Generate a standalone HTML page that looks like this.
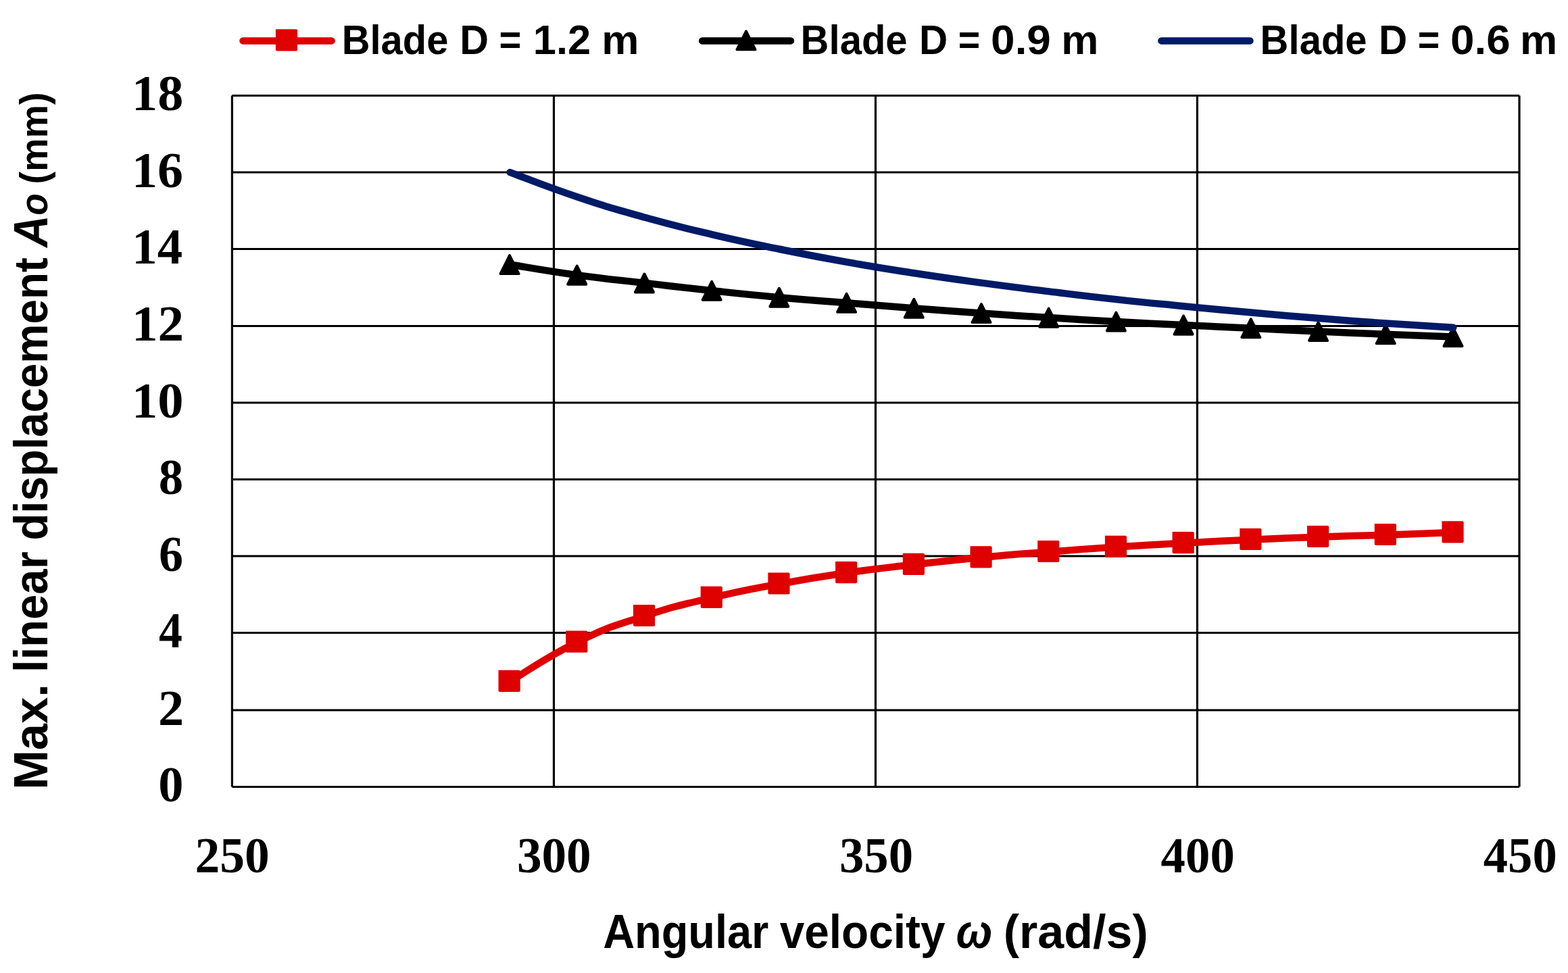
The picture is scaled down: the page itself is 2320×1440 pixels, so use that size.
<!DOCTYPE html>
<html lang="en"><head><meta charset="utf-8"><title>Max. linear displacement vs angular velocity</title>
<style>html,body{margin:0;padding:0;background:#fff;}body{width:2320px;height:1440px;overflow:hidden;}svg{display:block;}.sans{font-family:"Liberation Sans",sans-serif;font-weight:700;fill:#000;}.serif{font-family:"Liberation Serif",serif;font-weight:700;fill:#000;}</style></head><body>
<svg width="2320" height="1440" viewBox="0 0 2320 1440">
<rect width="2320" height="1440" fill="#fff"/>
<g stroke="#000" stroke-width="3.20" fill="none" stroke-linecap="butt">
<line x1="343.40" y1="1164.50" x2="2248.00" y2="1164.50"/>
<line x1="343.40" y1="1051.00" x2="2248.00" y2="1051.00"/>
<line x1="343.40" y1="936.50" x2="2248.00" y2="936.50"/>
<line x1="343.40" y1="823.00" x2="2248.00" y2="823.00"/>
<line x1="343.40" y1="709.50" x2="2248.00" y2="709.50"/>
<line x1="343.40" y1="596.00" x2="2248.00" y2="596.00"/>
<line x1="343.40" y1="482.50" x2="2248.00" y2="482.50"/>
<line x1="343.40" y1="368.50" x2="2248.00" y2="368.50"/>
<line x1="343.40" y1="255.00" x2="2248.00" y2="255.00"/>
<line x1="343.40" y1="141.50" x2="2248.00" y2="141.50"/>
<line x1="343.40" y1="141.50" x2="343.40" y2="1164.50"/>
<line x1="819.45" y1="141.50" x2="819.45" y2="1164.50"/>
<line x1="1295.45" y1="141.50" x2="1295.45" y2="1164.50"/>
<line x1="1771.45" y1="141.50" x2="1771.45" y2="1164.50"/>
<line x1="2248.00" y1="141.50" x2="2248.00" y2="1164.50"/>
</g>
<path fill="none" stroke="#df0000" stroke-width="10.50" stroke-linecap="round" stroke-linejoin="round" d="M754.60 1008.55 C779.52 993.96 804.44 974.42 854.29 950.20 C904.13 925.97 904.13 928.05 953.98 911.65 C1003.83 895.25 1003.83 896.49 1053.67 884.61 C1103.52 872.74 1103.52 873.37 1153.36 864.15 C1203.21 854.93 1203.20 854.90 1253.05 847.75 C1302.89 840.60 1302.89 841.25 1352.74 835.55 C1402.59 829.85 1402.58 829.67 1452.43 824.95 C1502.27 820.22 1502.27 820.50 1552.12 816.65 C1601.96 812.80 1601.96 812.79 1651.81 809.55 C1701.65 806.31 1701.65 806.42 1751.50 803.70 C1801.35 800.97 1801.35 800.91 1851.19 798.65 C1901.04 796.39 1901.04 796.40 1950.88 794.65 C2000.73 792.90 2000.73 793.30 2050.57 791.65 C2100.41 790.00 2125.34 788.95 2150.26 788.05"/>
<g fill="#df0000">
<path d="M737.50 991.80 H767.70 Q769.70 991.80 769.70 993.80 V1022.00 Q769.70 1024.00 767.70 1024.00 H739.50 Q737.50 1024.00 737.50 1022.00 Z"/>
<path d="M837.21 933.45 H867.41 Q869.41 933.45 869.41 935.45 V963.65 Q869.41 965.65 867.41 965.65 H839.21 Q837.21 965.65 837.21 963.65 Z"/>
<path d="M936.92 894.90 H967.12 Q969.12 894.90 969.12 896.90 V925.10 Q969.12 927.10 967.12 927.10 H938.92 Q936.92 927.10 936.92 925.10 Z"/>
<path d="M1036.63 867.86 H1066.83 Q1068.83 867.86 1068.83 869.86 V898.06 Q1068.83 900.06 1066.83 900.06 H1038.63 Q1036.63 900.06 1036.63 898.06 Z"/>
<path d="M1136.34 847.40 H1166.54 Q1168.54 847.40 1168.54 849.40 V877.60 Q1168.54 879.60 1166.54 879.60 H1138.34 Q1136.34 879.60 1136.34 877.60 Z"/>
<path d="M1236.05 831.00 H1266.25 Q1268.25 831.00 1268.25 833.00 V861.20 Q1268.25 863.20 1266.25 863.20 H1238.05 Q1236.05 863.20 1236.05 861.20 Z"/>
<path d="M1335.76 818.80 H1365.96 Q1367.96 818.80 1367.96 820.80 V849.00 Q1367.96 851.00 1365.96 851.00 H1337.76 Q1335.76 851.00 1335.76 849.00 Z"/>
<path d="M1435.47 808.20 H1465.67 Q1467.67 808.20 1467.67 810.20 V838.40 Q1467.67 840.40 1465.67 840.40 H1437.47 Q1435.47 840.40 1435.47 838.40 Z"/>
<path d="M1535.18 799.90 H1565.38 Q1567.38 799.90 1567.38 801.90 V830.10 Q1567.38 832.10 1565.38 832.10 H1537.18 Q1535.18 832.10 1535.18 830.10 Z"/>
<path d="M1634.89 792.80 H1665.09 Q1667.09 792.80 1667.09 794.80 V823.00 Q1667.09 825.00 1665.09 825.00 H1636.89 Q1634.89 825.00 1634.89 823.00 Z"/>
<path d="M1734.60 786.95 H1764.80 Q1766.80 786.95 1766.80 788.95 V817.15 Q1766.80 819.15 1764.80 819.15 H1736.60 Q1734.60 819.15 1734.60 817.15 Z"/>
<path d="M1834.31 781.90 H1864.51 Q1866.51 781.90 1866.51 783.90 V812.10 Q1866.51 814.10 1864.51 814.10 H1836.31 Q1834.31 814.10 1834.31 812.10 Z"/>
<path d="M1934.02 777.90 H1964.22 Q1966.22 777.90 1966.22 779.90 V808.10 Q1966.22 810.10 1964.22 810.10 H1936.02 Q1934.02 810.10 1934.02 808.10 Z"/>
<path d="M2033.73 774.90 H2063.93 Q2065.93 774.90 2065.93 776.90 V805.10 Q2065.93 807.10 2063.93 807.10 H2035.73 Q2033.73 807.10 2033.73 805.10 Z"/>
<path d="M2133.44 771.30 H2163.64 Q2165.64 771.30 2165.64 773.30 V801.50 Q2165.64 803.50 2163.64 803.50 H2135.44 Q2133.44 803.50 2133.44 801.50 Z"/>
</g>
<path fill="none" stroke="#000" stroke-width="10.50" stroke-linecap="round" stroke-linejoin="round" d="M754.60 391.50 C779.52 395.40 804.44 400.25 854.29 407.10 C904.13 413.95 904.13 413.12 953.98 418.90 C1003.83 424.67 1003.83 424.89 1053.67 430.20 C1103.52 435.51 1103.52 435.64 1153.36 440.15 C1203.21 444.66 1203.20 444.23 1253.05 448.25 C1302.89 452.27 1302.89 452.44 1352.74 456.25 C1402.59 460.06 1402.58 460.05 1452.43 463.50 C1502.27 466.95 1502.27 466.93 1552.12 470.05 C1601.96 473.18 1601.96 473.25 1651.81 476.00 C1701.65 478.75 1701.65 478.61 1751.50 481.05 C1801.35 483.49 1801.35 483.39 1851.19 485.75 C1901.04 488.11 1901.04 488.26 1950.88 490.50 C2000.73 492.74 2000.73 492.69 2050.57 494.70 C2100.41 496.71 2125.34 497.59 2150.26 498.55"/>
<g fill="#000" stroke="#000" stroke-width="4.00" stroke-linejoin="round">
<path d="M754.00 378.10 L767.50 405.10 L740.50 405.10 Z"/>
<path d="M853.71 393.70 L867.21 420.70 L840.21 420.70 Z"/>
<path d="M953.42 405.50 L966.92 432.50 L939.92 432.50 Z"/>
<path d="M1053.13 416.80 L1066.63 443.80 L1039.63 443.80 Z"/>
<path d="M1152.84 426.75 L1166.34 453.75 L1139.34 453.75 Z"/>
<path d="M1252.55 434.85 L1266.05 461.85 L1239.05 461.85 Z"/>
<path d="M1352.26 442.85 L1365.76 469.85 L1338.76 469.85 Z"/>
<path d="M1451.97 450.10 L1465.47 477.10 L1438.47 477.10 Z"/>
<path d="M1551.68 456.65 L1565.18 483.65 L1538.18 483.65 Z"/>
<path d="M1651.39 462.60 L1664.89 489.60 L1637.89 489.60 Z"/>
<path d="M1751.10 467.65 L1764.60 494.65 L1737.60 494.65 Z"/>
<path d="M1850.81 472.35 L1864.31 499.35 L1837.31 499.35 Z"/>
<path d="M1950.52 477.10 L1964.02 504.10 L1937.02 504.10 Z"/>
<path d="M2050.23 481.30 L2063.73 508.30 L2036.73 508.30 Z"/>
<path d="M2149.94 485.15 L2163.44 512.15 L2136.44 512.15 Z"/>
</g>
<path fill="none" stroke="#001a66" stroke-width="10.50" stroke-linecap="round" stroke-linejoin="round" d="M754.60 255.07 C779.52 264.17 804.44 274.82 854.29 291.49 C904.13 308.17 904.13 307.87 953.98 321.76 C1003.83 335.65 1003.83 335.31 1053.67 347.05 C1103.52 358.79 1103.52 358.52 1153.36 368.74 C1203.21 378.96 1203.20 379.03 1253.05 387.92 C1302.89 396.81 1302.89 396.61 1352.74 404.29 C1402.59 411.97 1402.58 411.87 1452.43 418.64 C1502.27 425.41 1502.27 425.26 1552.12 431.38 C1601.96 437.50 1601.96 437.67 1651.81 443.13 C1701.65 448.58 1701.65 448.32 1751.50 453.19 C1801.35 458.05 1801.35 458.12 1851.19 462.59 C1901.04 467.06 1901.04 467.07 1950.88 471.06 C2000.73 475.04 2000.73 475.08 2050.57 478.53 C2100.41 481.97 2125.34 483.26 2150.26 484.83"/>
<g fill="none" stroke-width="10.50" stroke-linecap="round">
<line stroke="#df0000" x1="359.5" y1="60.40" x2="490.6" y2="60.40"/>
<line stroke="#000" x1="1039.1" y1="60.40" x2="1169.9" y2="60.40"/>
<line stroke="#001a66" x1="1718.4" y1="60.40" x2="1849.5" y2="60.40"/>
</g>
<g fill="#df0000"><path d="M407.90 43.35 H438.10 Q440.10 43.35 440.10 45.35 V73.55 Q440.10 75.55 438.10 75.55 H409.90 Q407.90 75.55 407.90 73.55 Z"/></g>
<g fill="#000" stroke="#000" stroke-width="4.00" stroke-linejoin="round"><path d="M1103.95 46.35 L1117.45 73.35 L1090.45 73.35 Z"/></g>
<text class="sans" y="79.70" font-size="62.00"><tspan x="505.73" textLength="157.62" lengthAdjust="spacingAndGlyphs">Blade</tspan> <tspan x="680.34" textLength="42.78" lengthAdjust="spacingAndGlyphs">D</tspan> <tspan x="738.44" textLength="32.80" lengthAdjust="spacingAndGlyphs">=</tspan> <tspan x="788.84" textLength="85.28" lengthAdjust="spacingAndGlyphs">1.2</tspan> <tspan x="890.20" textLength="55.08" lengthAdjust="spacingAndGlyphs">m</tspan></text>
<text class="sans" y="79.70" font-size="62.00"><tspan x="1184.62" textLength="158.04" lengthAdjust="spacingAndGlyphs">Blade</tspan> <tspan x="1359.90" textLength="42.19" lengthAdjust="spacingAndGlyphs">D</tspan> <tspan x="1417.76" textLength="32.45" lengthAdjust="spacingAndGlyphs">=</tspan> <tspan x="1466.12" textLength="88.80" lengthAdjust="spacingAndGlyphs">0.9</tspan> <tspan x="1570.20" textLength="55.08" lengthAdjust="spacingAndGlyphs">m</tspan></text>
<text class="sans" y="79.70" font-size="62.00"><tspan x="1864.62" textLength="158.04" lengthAdjust="spacingAndGlyphs">Blade</tspan> <tspan x="2039.90" textLength="42.19" lengthAdjust="spacingAndGlyphs">D</tspan> <tspan x="2097.76" textLength="32.45" lengthAdjust="spacingAndGlyphs">=</tspan> <tspan x="2146.13" textLength="88.53" lengthAdjust="spacingAndGlyphs">0.6</tspan> <tspan x="2249.10" textLength="55.20" lengthAdjust="spacingAndGlyphs">m</tspan></text>
<text class="serif" y="163.40" font-size="74.00"><tspan x="195.12" textLength="76.26" lengthAdjust="spacingAndGlyphs">18</tspan></text>
<text class="serif" y="276.90" font-size="74.00"><tspan x="195.14" textLength="75.97" lengthAdjust="spacingAndGlyphs">16</tspan></text>
<text class="serif" y="390.40" font-size="74.00"><tspan x="195.23" textLength="74.83" lengthAdjust="spacingAndGlyphs">14</tspan></text>
<text class="serif" y="504.40" font-size="74.00"><tspan x="195.05" textLength="77.14" lengthAdjust="spacingAndGlyphs">12</tspan></text>
<text class="serif" y="617.90" font-size="74.00"><tspan x="195.09" textLength="76.55" lengthAdjust="spacingAndGlyphs">10</tspan></text>
<text class="serif" y="731.40" font-size="74.00"><tspan x="234.84" textLength="36.42" lengthAdjust="spacingAndGlyphs">8</tspan></text>
<text class="serif" y="844.90" font-size="74.00"><tspan x="234.97" textLength="36.02" lengthAdjust="spacingAndGlyphs">6</tspan></text>
<text class="serif" y="958.40" font-size="74.00"><tspan x="235.06" textLength="34.92" lengthAdjust="spacingAndGlyphs">4</tspan></text>
<text class="serif" y="1072.90" font-size="74.00"><tspan x="234.01" textLength="38.14" lengthAdjust="spacingAndGlyphs">2</tspan></text>
<text class="serif" y="1186.40" font-size="74.00"><tspan x="234.33" textLength="37.23" lengthAdjust="spacingAndGlyphs">0</tspan></text>
<text class="serif" y="1290.85" font-size="74.00"><tspan x="288.62" textLength="110.21" lengthAdjust="spacingAndGlyphs">250</tspan></text>
<text class="serif" y="1290.85" font-size="74.00"><tspan x="764.88" textLength="109.74" lengthAdjust="spacingAndGlyphs">300</tspan></text>
<text class="serif" y="1290.85" font-size="74.00"><tspan x="1242.00" textLength="109.00" lengthAdjust="spacingAndGlyphs">350</tspan></text>
<text class="serif" y="1290.85" font-size="74.00"><tspan x="1717.62" textLength="109.19" lengthAdjust="spacingAndGlyphs">400</tspan></text>
<text class="serif" y="1290.85" font-size="74.00"><tspan x="2194.82" textLength="108.88" lengthAdjust="spacingAndGlyphs">450</tspan></text>
<text class="sans" y="1402.90" font-size="70.00"><tspan x="892.18" textLength="245.21" lengthAdjust="spacingAndGlyphs">Angular</tspan> <tspan x="1153.77" textLength="244.66" lengthAdjust="spacingAndGlyphs">velocity</tspan> <tspan x="1414.67" textLength="53.45" lengthAdjust="spacingAndGlyphs" font-style="italic">ω</tspan> <tspan x="1484.70" textLength="214.04" lengthAdjust="spacingAndGlyphs">(rad/s)</tspan></text>
<g transform="translate(70.20 0) rotate(-90)"><text class="sans" y="0.00" font-size="70.00"><tspan x="-1168.78" textLength="156.48" lengthAdjust="spacingAndGlyphs">Max.</tspan> <tspan x="-995.19" textLength="178.96" lengthAdjust="spacingAndGlyphs">linear</tspan> <tspan x="-799.77" textLength="418.51" lengthAdjust="spacingAndGlyphs">displacement</tspan> <tspan x="-366.03" textLength="47.48" lengthAdjust="spacingAndGlyphs" font-style="italic">A</tspan><tspan x="-318.83" textLength="32.49" lengthAdjust="spacingAndGlyphs" font-style="italic" font-size="57.00">o</tspan> <tspan x="-272.41" textLength="136.02" lengthAdjust="spacingAndGlyphs" font-size="56.50">(mm)</tspan></text></g>
</svg></body></html>
